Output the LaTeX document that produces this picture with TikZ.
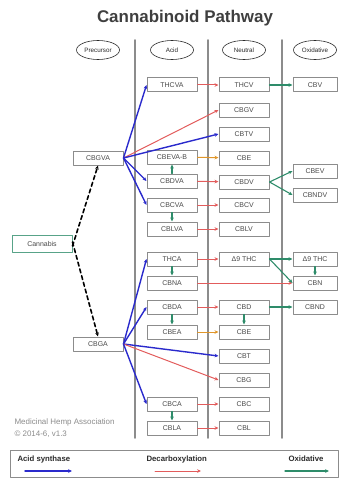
\documentclass[tikz,border=0pt]{standalone}
\usepackage{fontspec}
\setmainfont{Liberation Sans}
\usetikzlibrary{positioning, arrows.meta, shapes.geometric}
\definecolor{pathink}{HTML}{2A2A2A}
\definecolor{pathgray}{HTML}{8C8C8C}
\definecolor{synblue}{HTML}{2A2ACC}
\definecolor{decred}{HTML}{E25C5C}
\definecolor{decorange}{HTML}{E0962A}
\definecolor{oxgreen}{HTML}{2E8C6A}

\begin{document}
\begin{tikzpicture}[
  x=1bp, y=-1bp,
  line cap=round, line join=round,
  >={Stealth[length=4pt, width=3.6pt]},
  hdr/.style = {draw=pathink, line width=0.6pt, ellipse, fill=white,
                minimum width=43bp, minimum height=19bp, inner sep=0pt,
                font=\fontsize{6.3}{7}\selectfont, text=pathink},
  cmp/.style = {draw=pathgray, line width=1pt, fill=white,
                minimum width=50bp, minimum height=14bp, inner sep=0pt,
                font=\fontsize{7}{8}\selectfont, text=pathink!85},
  oxc/.style = {cmp, minimum width=44bp},
  sepline/.style = {draw=pathgray, line width=1.8pt},
  synth/.style  = {->, draw=synblue, line width=1.4pt},
  decarb/.style = {->, draw=decred, line width=1pt},
  heat/.style   = {->, draw=decorange, line width=1pt},
  oxid/.style   = {->, draw=oxgreen, line width=1.1pt},
  srcline/.style = {->, draw=black, line width=1.6pt, dash pattern=on 4pt off 3pt},
  legtxt/.style = {anchor=west, font=\bfseries\fontsize{7.8}{9}\selectfont, text=pathink}
]
\useasboundingbox (0,0) rectangle (339,478);

% Titel und Spaltenkoepfe
\node[font=\bfseries\fontsize{17}{19}\selectfont, text=pathink!90] (title) at (185,18) {Cannabinoid Pathway};
\node[hdr] (hpre) at (98,50)  {Precursor};
\node[hdr] (hacid) at (172,50) {Acid};
\node[hdr] (hneu) at (244,50)  {Neutral};
\node[hdr] (hoxi) at (315,50)  {Oxidative};

% Trennlinien
\draw[sepline] (135,40) -- (135,438);
\draw[sepline] (208,40) -- (208,438);
\draw[sepline] (282,40) -- (282,438);

% Vorstufen
\node[cmp, draw=oxgreen!80, minimum width=60bp, minimum height=17bp] (cannabis) at (42,244) {Cannabis};
\node[cmp] (cbgva) at (98,158) {CBGVA};
\node[cmp] (cbga)  at (98,344) {CBGA};

% Saeuren
\node[cmp] (thcva)  at (172,85)  {THCVA};
\node[cmp] (cbevab) at (172,157) {CBEVA-B};
\node[cmp] (cbdva)  at (172,181) {CBDVA};
\node[cmp] (cbcva)  at (172,205) {CBCVA};
\node[cmp] (cblva)  at (172,229) {CBLVA};
\node[cmp] (thca)   at (172,259) {THCA};
\node[cmp] (cbna)   at (172,283) {CBNA};
\node[cmp] (cbda)   at (172,307) {CBDA};
\node[cmp] (cbea)   at (172,332) {CBEA};
\node[cmp] (cbca)   at (172,404) {CBCA};
\node[cmp] (cbla)   at (172,428) {CBLA};

% Neutrale Formen
\node[cmp] (thcv)  at (244,85)  {THCV};
\node[cmp] (cbgv)  at (244,110) {CBGV};
\node[cmp] (cbtv)  at (244,134) {CBTV};
\node[cmp] (cbevn) at (244,158) {CBE};
\node[cmp] (cbdv)  at (244,182) {CBDV};
\node[cmp] (cbcv)  at (244,205) {CBCV};
\node[cmp] (cblv)  at (244,229) {CBLV};
\node[cmp] (thc)   at (244,259) {Δ9 THC};
\node[cmp] (cbd)   at (244,307) {CBD};
\node[cmp] (cbe)   at (244,332) {CBE};
\node[cmp] (cbt)   at (244,356) {CBT};
\node[cmp] (cbg)   at (244,380) {CBG};
\node[cmp] (cbc)   at (244,404) {CBC};
\node[cmp] (cbl)   at (244,428) {CBL};

% Oxidationsprodukte
\node[oxc] (ocbv)   at (315,85)  {CBV};
\node[oxc] (ocbev)  at (315,171) {CBEV};
\node[oxc] (ocbndv) at (315,195) {CBNDV};
\node[oxc] (othc)   at (315,259) {Δ9 THC};
\node[oxc] (ocbn)   at (315,283) {CBN};
\node[oxc] (ocbnd)  at (315,307) {CBND};

% Cannabis -> Vorstufen
\draw[srcline] ([yshift=-2bp]cannabis.east) -- (cbgva.south);
\draw[srcline] ([yshift=2bp]cannabis.east) -- (cbga.north);

% Varin-Reihe
\draw[synth] (cbgva.east) -- (thcva.west);
\draw[decarb] (cbgva.east) -- (cbgv.west);
\draw[synth] (cbgva.east) -- (cbtv.west);
\draw[synth] (cbgva.east) -- (cbdva.west);
\draw[synth] (cbgva.east) -- (cbcva.west);
\draw[oxid] (cbdva.north) -- (cbevab.south);
\draw[oxid] (cbcva.south) -- (cblva.north);
\draw[decarb] (thcva) -- (thcv);
\draw[heat] (cbevab) -- (cbevn);
\draw[decarb] (cbdva) -- (cbdv);
\draw[decarb] (cbcva) -- (cbcv);
\draw[decarb] (cblva) -- (cblv);
\draw[oxid] (thcv) -- (ocbv);
\draw[oxid] (cbdv.east) -- (ocbev.west);
\draw[oxid] (cbdv.east) -- (ocbndv.west);

% Hauptreihe
\draw[synth] (cbga.east) -- (thca.west);
\draw[synth] (cbga.east) -- (cbda.west);
\draw[synth] (cbga.east) -- (cbt.west);
\draw[decarb] (cbga.east) -- (cbg.west);
\draw[synth] (cbga.east) -- (cbca.west);
\draw[oxid] (thca.south) -- (cbna.north);
\draw[oxid] (cbda.south) -- (cbea.north);
\draw[oxid] (cbca.south) -- (cbla.north);
\draw[decarb] (thca) -- (thc);
\draw[decarb] (cbna) -- (ocbn);
\draw[decarb] (cbda) -- (cbd);
\draw[heat] (cbea) -- (cbe);
\draw[decarb] (cbca) -- (cbc);
\draw[decarb] (cbla) -- (cbl);
\draw[oxid] (cbd.south) -- (cbe.north);
\draw[oxid] (thc) -- (othc);
\draw[oxid] (thc.east) -- (ocbn.west);
\draw[oxid] (othc.south) -- (ocbn.north);
\draw[oxid] (cbd) -- (ocbnd);

% Herkunft
\node[anchor=west, text=pathgray, font=\fontsize{8}{9}\selectfont] (credit) at (11,422) {Medicinal Hemp Association};
\node[anchor=west, text=pathgray, font=\fontsize{8}{9}\selectfont] (version) at (11,434) {© 2014-6, v1.3};

% Legende
\draw[draw=pathgray, line width=0.8pt] (10,450) rectangle (338,477);
\node[legtxt] (lsyn) at (14,459)  {Acid synthase};
\node[legtxt] (ldec) at (143,459) {Decarboxylation};
\node[legtxt] (loxi) at (285,459) {Oxidative};
\coordinate (ls1) at (25,471);  \coordinate (ls2) at (72,471);
\coordinate (ld1) at (155,471); \coordinate (ld2) at (201,471);
\coordinate (lo1) at (285,471); \coordinate (lo2) at (329,471);
\draw[synth] (ls1) -- (ls2);
\draw[decarb] (ld1) -- (ld2);
\draw[oxid] (lo1) -- (lo2);

\end{tikzpicture}
\end{document}
